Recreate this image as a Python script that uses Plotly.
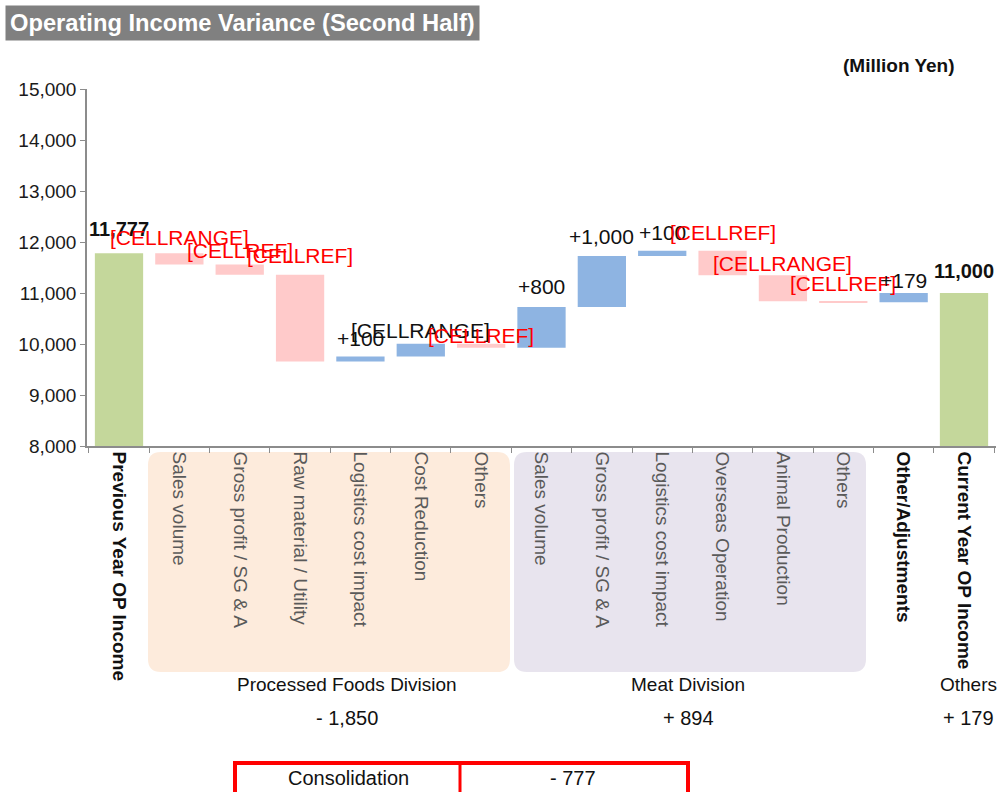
import plotly.graph_objects as go

# ---- data -------------------------------------------------------------
categories = [
    "Previous Year OP Income",
    "Sales volume", "Gross profit / SG & A", "Raw material / Utility",
    "Logistics cost impact", "Cost Reduction", "Others",
    "Sales volume ", "Gross profit / SG & A ", "Logistics cost impact ",
    "Overseas Operation", "Animal Production", "Others ",
    "Other/Adjustments",
    "Current Year OP Income",
]
measures = ["absolute"] + ["relative"] * 13 + ["total"]
values = [11777, -220, -200, -1700, 100, 250, -80,
          800, 1000, 100, -480, -510, -16, 179, 11000]
bar_labels = ["11,777", "[CELLRANGE]", "[CELLREF]", "[CELLREF]", "+100",
              "[CELLRANGE]", "[CELLREF]", "+800", "+1,000", "+100",
              "[CELLREF]", "[CELLRANGE]", "[CELLREF]", "+179", "11,000"]
label_red = [False, True, True, True, False, False, True,
             False, False, False, True, True, True, False, False]

division_names = ["Processed Foods Division", "Meat Division", "Others"]
division_totals = ["- 1,850", "+ 894", "+ 179"]
consolidation = ("Consolidation", "- 777")

# ---- styling ----------------------------------------------------------
FONT = "Liberation Sans, Arial, sans-serif"
GREEN = "#C4D79B"
BLUE = "#8EB4E2"
PINK = "#FFCACA"
RED = "#FF0000"
AXIS = "#8C8C8C"
PEACH = "#FDEBDC"
LAVENDER = "#E8E4EE"

W, H = 1005, 792
L, R, T, B = 87, 9, 89, 346
PW, PH = W - L - R, H - T - B


def px_x(X):
    return (X - L) / PW


def px_y(Y):
    return (T + PH - Y) / PH


def rounded_rect(x0, y0, x1, y1, r=13):
    pts = [
        ("M", x0 + r, y0), ("L", x1 - r, y0), ("Q", x1, y0, x1, y0 + r),
        ("L", x1, y1 - r), ("Q", x1, y1, x1 - r, y1), ("L", x0 + r, y1),
        ("Q", x0, y1, x0, y1 - r), ("L", x0, y0 + r), ("Q", x0, y0, x0 + r, y0),
    ]
    out = []
    for p in pts:
        cmd, coords = p[0], p[1:]
        xy = []
        for i in range(0, len(coords), 2):
            xy.append(f"{px_x(coords[i]):.5f},{px_y(coords[i + 1]):.5f}")
        out.append(cmd + " " + " ".join(xy))
    return " ".join(out) + " Z"


def page_text(text, X, Y, size, **kw):
    # text placed by page pixel position (centre)
    fig.add_annotation(x=px_x(X), y=px_y(Y), xref="paper", yref="paper",
                       text=text, showarrow=False,
                       xanchor=kw.pop("xanchor", "center"),
                       yanchor=kw.pop("yanchor", "middle"),
                       font=dict(family=FONT, size=size,
                                 color=kw.pop("color", "#111")),
                       **kw)


bold_ticks = {0, 13, 14}
ticktext = [
    f"<b>{c.strip()}</b>" if i in bold_ticks
    else f"<span style='color:#5A5A5A'>{c.strip()}</span>"
    for i, c in enumerate(categories)
]

fig = go.Figure(go.Waterfall(
    x=categories, y=values, measure=measures,
    increasing=dict(marker=dict(color=BLUE, line=dict(width=0))),
    decreasing=dict(marker=dict(color=PINK, line=dict(width=0))),
    totals=dict(marker=dict(color=GREEN, line=dict(width=0))),
    connector=dict(visible=False),
    textinfo="none", hoverinfo="x+y",
))

# running tops of each bar for the value labels
lift = [24, 16, 14, 19, 18, 13, 8, 20, 19, 18, 18, 12, 18, 13, 22]
running = 0
for i, (cat, v, m) in enumerate(zip(categories, values, measures)):
    if m == "relative":
        start, end = running, running + v
        running = end
        top = max(start, end)
    else:
        running = v
        top = v
    txt = bar_labels[i]
    size = 21
    if m != "relative":
        txt = f"<b>{txt}</b>"
        size = 20
    fig.add_annotation(
        x=cat, y=top, xref="x", yref="y", text=txt, showarrow=False,
        yanchor="middle", yshift=lift[i],
        font=dict(family=FONT, size=size, color=RED if label_red[i] else "#111"),
    )

# division backgrounds
fig.add_shape(type="path", xref="paper", yref="paper", layer="below",
              path=rounded_rect(148, 452, 510, 672), fillcolor=PEACH,
              line=dict(width=0))
fig.add_shape(type="path", xref="paper", yref="paper", layer="below",
              path=rounded_rect(514, 452, 866, 672), fillcolor=LAVENDER,
              line=dict(width=0))

# division names and subtotals
for name, tot, cx in zip(division_names, division_totals, [347, 688, 968]):
    page_text(name, cx, 684, 19)
    page_text(tot, cx, 718, 20)

# consolidation box
fig.add_shape(type="rect", xref="paper", yref="paper",
              x0=px_x(235), x1=px_x(688), y0=px_y(763), y1=px_y(797),
              line=dict(color=RED, width=4), fillcolor="white")
fig.add_shape(type="line", xref="paper", yref="paper",
              x0=px_x(460), x1=px_x(460), y0=px_y(763), y1=px_y(797),
              line=dict(color=RED, width=3))
page_text(consolidation[0], 348, 778, 20)
page_text(consolidation[1], 573, 778, 20)

# title and unit
page_text("<b>Operating Income Variance (Second Half)</b>", 5, 5, 23.7,
          xanchor="left", yanchor="top", color="white",
          bgcolor="#808080", borderpad=4)
page_text("<b>(Million Yen)</b>", 899, 65, 19)

fig.update_layout(
    width=W, height=H,
    margin=dict(l=L, r=R, t=T, b=B),
    paper_bgcolor="white", plot_bgcolor="white",
    showlegend=False,
    bargap=0.18,
    font=dict(family=FONT, size=17, color="#111"),
)
fig.update_xaxes(
    type="category", tickvals=categories, ticktext=ticktext,
    tickangle=90, showline=True, linecolor=AXIS, linewidth=1.5,
    ticks="outside", tickson="boundaries", ticklen=5, tickcolor=AXIS,
    tickfont=dict(family=FONT, size=19, color="#111"), showgrid=False,
)
fig.update_yaxes(
    range=[8000, 15000], dtick=1000, tickformat=",",
    showline=True, linecolor=AXIS, linewidth=1.5,
    ticks="outside", ticklen=5, tickcolor=AXIS,
    tickfont=dict(family=FONT, size=19, color="#1a1a1a"),
    showgrid=False, zeroline=False,
)

# page body has an 8px default margin; drop it so the figure sits at 0,0
fig.write_html("out.html", config={"displayModeBar": False},
               post_script="document.body.style.margin='0';")
